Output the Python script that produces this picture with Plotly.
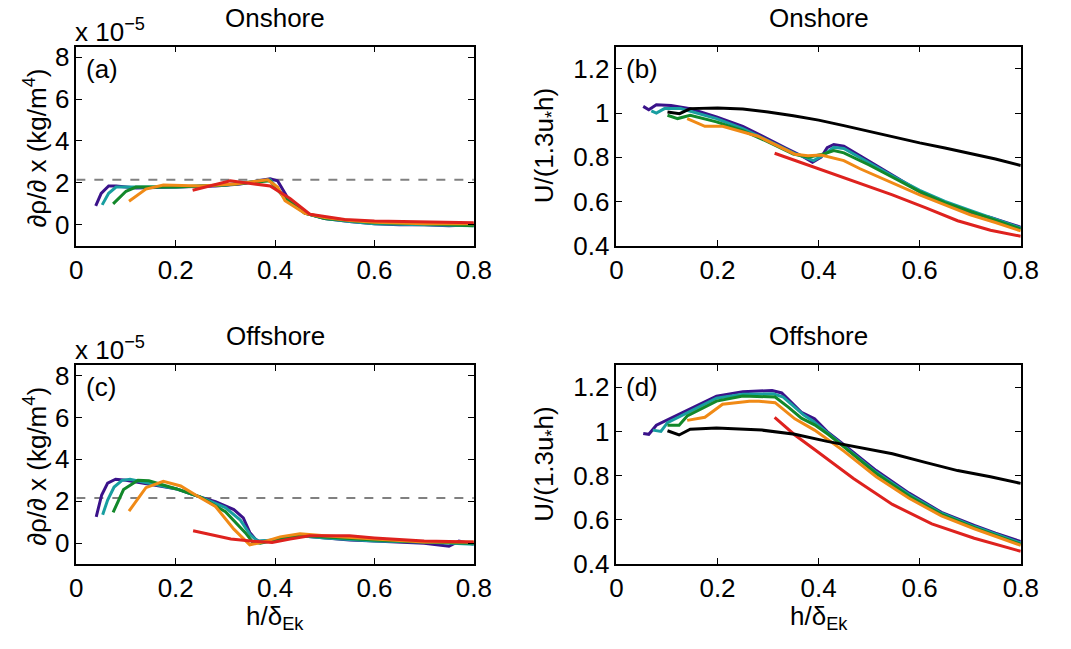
import plotly.graph_objects as go

W, H = 1071, 649

# ---------------- data ----------------
# Panel (a): onshore density gradient (units of 1e-5 kg/m^4)
a_purple_x = [0.039, 0.05, 0.065, 0.08, 0.12, 0.2, 0.28, 0.33, 0.37, 0.39, 0.405, 0.425, 0.46, 0.5, 0.55, 0.6, 0.65, 0.7, 0.75, 0.8]
a_purple_y = [0.9, 1.5, 1.85, 1.85, 1.75, 1.8, 1.85, 1.95, 2.1, 2.2, 2.1, 1.3, 0.55, 0.3, 0.15, 0.05, 0.0, 0.0, -0.05, 0.0]
a_teal_x = [0.052, 0.065, 0.08, 0.1, 0.2, 0.3, 0.37, 0.39, 0.42, 0.46, 0.5, 0.55, 0.6, 0.7, 0.75, 0.8]
a_teal_y = [0.95, 1.5, 1.8, 1.8, 1.8, 1.9, 2.1, 2.15, 1.3, 0.55, 0.3, 0.15, 0.05, 0.0, -0.05, -0.05]
a_green_x = [0.074, 0.09, 0.1, 0.12, 0.2, 0.3, 0.36, 0.39, 0.42, 0.46, 0.5, 0.55, 0.6, 0.7, 0.8]
a_green_y = [1.0, 1.35, 1.6, 1.8, 1.8, 1.9, 2.05, 2.1, 1.25, 0.55, 0.3, 0.2, 0.1, 0.05, -0.05]
a_orange_x = [0.106, 0.14, 0.175, 0.25, 0.32, 0.385, 0.405, 0.42, 0.46, 0.5, 0.55, 0.6, 0.7, 0.8]
a_orange_y = [1.12, 1.7, 1.9, 1.85, 1.95, 2.15, 1.8, 1.15, 0.55, 0.35, 0.2, 0.12, 0.05, 0.05]
a_red_x = [0.234, 0.31, 0.39, 0.43, 0.47, 0.54, 0.6, 0.7, 0.8]
a_red_y = [1.65, 2.1, 1.85, 1.25, 0.5, 0.25, 0.18, 0.15, 0.1]

# Panel (c): offshore density gradient (units of 1e-5 kg/m^4)
c_purple_x = [0.04, 0.051, 0.063, 0.079, 0.1, 0.15, 0.2, 0.25, 0.28, 0.317, 0.336, 0.349, 0.36, 0.368, 0.4, 0.45, 0.5, 0.55, 0.6, 0.65, 0.7, 0.75, 0.77, 0.8]
c_purple_y = [1.26, 2.3, 2.87, 3.05, 3.0, 2.8, 2.6, 2.2, 1.98, 1.6, 1.21, 0.51, 0.2, 0.08, 0.15, 0.35, 0.25, 0.15, 0.1, 0.05, 0.0, -0.15, 0.1, -0.05]
c_teal_x = [0.053, 0.063, 0.076, 0.092, 0.108, 0.13, 0.2, 0.25, 0.3, 0.33, 0.35, 0.365, 0.4, 0.45, 0.5, 0.6, 0.7, 0.8]
c_teal_y = [1.36, 2.06, 2.68, 3.0, 3.05, 2.95, 2.6, 2.2, 1.7, 1.1, 0.4, 0.1, 0.15, 0.35, 0.25, 0.1, 0.05, -0.05]
c_green_x = [0.074, 0.095, 0.124, 0.146, 0.2, 0.25, 0.3, 0.34, 0.355, 0.37, 0.4, 0.45, 0.5, 0.6, 0.7, 0.8]
c_green_y = [1.47, 2.56, 3.0, 2.98, 2.6, 2.2, 1.5, 0.5, 0.05, 0.0, 0.15, 0.38, 0.3, 0.15, 0.05, 0.0]
c_orange_x = [0.106, 0.14, 0.175, 0.21, 0.24, 0.28, 0.317, 0.349, 0.375, 0.41, 0.45, 0.5, 0.6, 0.7, 0.8]
c_orange_y = [1.53, 2.65, 2.95, 2.73, 2.3, 1.75, 0.67, -0.08, 0.05, 0.3, 0.45, 0.35, 0.2, 0.05, 0.05]
c_red_x = [0.235, 0.273, 0.311, 0.356, 0.394, 0.43, 0.47, 0.55, 0.6, 0.7, 0.8]
c_red_y = [0.59, 0.39, 0.2, 0.09, 0.03, 0.2, 0.35, 0.35, 0.25, 0.1, 0.05]

# Reference level (dashed), units of 1e-5
ref_level = 2.15
ref_x = [0.0, 0.8]

# Panel (b): onshore U/(1.3 u* h)
b_purple_x = [0.053, 0.064, 0.079, 0.108, 0.146, 0.198, 0.25, 0.288, 0.334, 0.366, 0.388, 0.405, 0.417, 0.43, 0.45, 0.482, 0.514, 0.546, 0.579, 0.611, 0.643, 0.675, 0.708, 0.74, 0.772, 0.8]
b_purple_y = [1.03, 1.015, 1.037, 1.034, 1.02, 0.983, 0.94, 0.895, 0.843, 0.807, 0.777, 0.80, 0.843, 0.858, 0.85, 0.807, 0.763, 0.72, 0.675, 0.63, 0.60, 0.572, 0.545, 0.528, 0.506, 0.484]
b_teal_x = [0.069, 0.079, 0.095, 0.127, 0.198, 0.25, 0.3, 0.35, 0.39, 0.41, 0.43, 0.45, 0.5, 0.55, 0.6, 0.65, 0.7, 0.75, 0.8]
b_teal_y = [1.01, 1.0, 1.02, 1.02, 0.975, 0.93, 0.875, 0.82, 0.785, 0.81, 0.845, 0.84, 0.775, 0.71, 0.65, 0.6, 0.56, 0.52, 0.48]
b_green_x = [0.101, 0.121, 0.146, 0.198, 0.25, 0.3, 0.35, 0.38, 0.41, 0.43, 0.45, 0.5, 0.55, 0.6, 0.65, 0.7, 0.75, 0.8]
b_green_y = [0.99, 0.975, 0.99, 0.96, 0.92, 0.87, 0.815, 0.80, 0.815, 0.83, 0.82, 0.765, 0.705, 0.645, 0.595, 0.555, 0.515, 0.475]
b_orange_x = [0.14, 0.175, 0.21, 0.28, 0.353, 0.379, 0.405, 0.45, 0.482, 0.55, 0.6, 0.65, 0.7, 0.75, 0.8]
b_orange_y = [0.975, 0.94, 0.94, 0.895, 0.814, 0.807, 0.81, 0.785, 0.748, 0.68, 0.63, 0.585, 0.54, 0.505, 0.467]
b_red_x = [0.313, 0.417, 0.482, 0.546, 0.611, 0.675, 0.74, 0.8]
b_red_y = [0.818, 0.733, 0.682, 0.63, 0.572, 0.513, 0.47, 0.443]
b_black_x = [0.101, 0.125, 0.146, 0.2, 0.25, 0.3, 0.35, 0.4, 0.45, 0.5, 0.55, 0.6, 0.65, 0.7, 0.75, 0.8]
b_black_y = [1.005, 0.997, 1.02, 1.023, 1.018, 1.005, 0.988, 0.968, 0.943, 0.917, 0.89, 0.865, 0.842, 0.818, 0.792, 0.763]

# Panel (d): offshore U/(1.3 u* h)
d_purple_x = [0.053, 0.064, 0.079, 0.108, 0.146, 0.198, 0.25, 0.308, 0.327, 0.346, 0.366, 0.392, 0.417, 0.45, 0.514, 0.579, 0.643, 0.708, 0.75, 0.8]
d_purple_y = [0.991, 0.987, 1.028, 1.06, 1.10, 1.16, 1.18, 1.185, 1.174, 1.13, 1.086, 1.057, 0.999, 0.94, 0.823, 0.721, 0.634, 0.575, 0.54, 0.502]
d_teal_x = [0.072, 0.088, 0.101, 0.146, 0.198, 0.25, 0.31, 0.33, 0.35, 0.37, 0.39, 0.42, 0.45, 0.514, 0.579, 0.643, 0.708, 0.8]
d_teal_y = [1.006, 1.0, 1.04, 1.09, 1.15, 1.168, 1.17, 1.155, 1.115, 1.075, 1.045, 0.99, 0.935, 0.815, 0.715, 0.63, 0.57, 0.495]
d_green_x = [0.101, 0.124, 0.14, 0.198, 0.25, 0.314, 0.34, 0.366, 0.392, 0.42, 0.45, 0.514, 0.579, 0.643, 0.708, 0.8]
d_green_y = [1.028, 1.028, 1.07, 1.137, 1.16, 1.156, 1.11, 1.06, 1.03, 0.985, 0.93, 0.81, 0.708, 0.625, 0.565, 0.49]
d_orange_x = [0.14, 0.175, 0.21, 0.263, 0.282, 0.314, 0.353, 0.392, 0.45, 0.514, 0.579, 0.643, 0.708, 0.8]
d_orange_y = [1.05, 1.064, 1.123, 1.137, 1.137, 1.13, 1.057, 1.006, 0.911, 0.795, 0.698, 0.618, 0.56, 0.485]
d_red_x = [0.313, 0.353, 0.392, 0.469, 0.546, 0.624, 0.708, 0.8]
d_red_y = [1.064, 0.984, 0.918, 0.787, 0.67, 0.582, 0.517, 0.458]
d_black_x = [0.101, 0.124, 0.146, 0.198, 0.288, 0.353, 0.417, 0.482, 0.546, 0.611, 0.675, 0.74, 0.8]
d_black_y = [1.003, 0.984, 1.01, 1.016, 1.006, 0.987, 0.955, 0.926, 0.899, 0.86, 0.823, 0.795, 0.765]

x_ticks = [0, 0.2, 0.4, 0.6, 0.8]
x_ticktext = ["0", "0.2", "0.4", "0.6", "0.8"]
rho_ticks = [0, 2, 4, 6, 8]
rho_ticktext = ["0", "2", "4", "6", "8"]
u_ticks = [0.4, 0.6, 0.8, 1.0, 1.2]
u_ticktext = ["0.4", "0.6", "0.8", "1", "1.2"]

titles = ["Onshore", "Onshore", "Offshore", "Offshore"]
panel_labels = ["(a)", "(b)", "(c)", "(d)"]

# ---------------- style ----------------
PURPLE = "rgb(58,18,138)"
TEAL = "rgb(24,158,160)"
GREEN = "rgb(18,136,42)"
ORANGE = "rgb(240,138,22)"
RED = "rgb(222,34,30)"
BLACK = "black"
FONT = "Liberation Sans, Arial, sans-serif"
FS = 26
LW = 3

fig = go.Figure()

def px_x(p):
    return p / W

def px_y(p):
    return 1 - p / H

# domains (pixel boxes)
boxes = {
    1: (71, 478, 44, 249),
    2: (624, 1038, 44, 249),
    3: (71, 478, 372, 577),
    4: (624, 1038, 372, 577),
}

def add_line(x, y, color, ax, dash=None, width=LW):
    fig.add_trace(go.Scatter(
        x=x, y=y, mode="lines",
        line=dict(color=color, width=width, dash=dash),
        xaxis="x" if ax == 1 else f"x{ax}",
        yaxis="y" if ax == 1 else f"y{ax}",
        showlegend=False, hoverinfo="skip"))

# panel a
add_line(ref_x, [ref_level, ref_level], "rgb(128,128,128)", 1, dash="dash", width=2)
add_line(a_purple_x, a_purple_y, PURPLE, 1)
add_line(a_teal_x, a_teal_y, TEAL, 1)
add_line(a_green_x, a_green_y, GREEN, 1)
add_line(a_orange_x, a_orange_y, ORANGE, 1)
add_line(a_red_x, a_red_y, RED, 1)
# panel b
add_line(b_purple_x, b_purple_y, PURPLE, 2)
add_line(b_teal_x, b_teal_y, TEAL, 2)
add_line(b_green_x, b_green_y, GREEN, 2)
add_line(b_orange_x, b_orange_y, ORANGE, 2)
add_line(b_red_x, b_red_y, RED, 2)
add_line(b_black_x, b_black_y, BLACK, 2)
# panel c
add_line(ref_x, [ref_level, ref_level], "rgb(128,128,128)", 3, dash="dash", width=2)
add_line(c_purple_x, c_purple_y, PURPLE, 3)
add_line(c_teal_x, c_teal_y, TEAL, 3)
add_line(c_green_x, c_green_y, GREEN, 3)
add_line(c_orange_x, c_orange_y, ORANGE, 3)
add_line(c_red_x, c_red_y, RED, 3)
# panel d
add_line(d_purple_x, d_purple_y, PURPLE, 4)
add_line(d_teal_x, d_teal_y, TEAL, 4)
add_line(d_green_x, d_green_y, GREEN, 4)
add_line(d_orange_x, d_orange_y, ORANGE, 4)
add_line(d_red_x, d_red_y, RED, 4)
add_line(d_black_x, d_black_y, BLACK, 4)

layout = dict(
    width=W, height=H,
    margin=dict(l=0, r=0, t=0, b=0),
    paper_bgcolor="white", plot_bgcolor="white",
    font=dict(family=FONT, size=FS, color="black"),
    showlegend=False,
)

annotations = []
for i in range(1, 5):
    l, r, t, b = boxes[i]
    xk = "xaxis" if i == 1 else f"xaxis{i}"
    yk = "yaxis" if i == 1 else f"yaxis{i}"
    xa = "x" if i == 1 else f"x{i}"
    ya = "y" if i == 1 else f"y{i}"
    common = dict(showline=True, linecolor="black", linewidth=1.5, mirror="allticks",
                  ticks="inside", ticklen=6, tickwidth=1, tickcolor="black",
                  showgrid=False, zeroline=False,
                  tickfont=dict(family=FONT, size=FS, color="black"))
    layout[xk] = dict(domain=[px_x(l), px_x(r)], anchor=ya, range=[0, 0.8],
                      tickvals=x_ticks, ticktext=x_ticktext, **common)
    if i in (1, 3):
        layout[yk] = dict(domain=[px_y(b), px_y(t)], anchor=xa, range=[-1, 8.5],
                          tickvals=rho_ticks, ticktext=rho_ticktext, **common)
    else:
        layout[yk] = dict(domain=[px_y(b), px_y(t)], anchor=xa, range=[0.4, 1.3],
                          tickvals=u_ticks, ticktext=u_ticktext, **common)
    # title
    annotations.append(dict(text=titles[i - 1], x=px_x((l + r) / 2), y=px_y(t - 30),
                            xref="paper", yref="paper", xanchor="center", yanchor="middle",
                            showarrow=False, font=dict(family=FONT, size=FS)))
    # panel label
    annotations.append(dict(text=panel_labels[i - 1], x=px_x(l + 8), y=px_y(t + 23),
                            xref="paper", yref="paper", xanchor="left", yanchor="middle",
                            showarrow=False, font=dict(family=FONT, size=FS)))
    # y axis titles
    if i in (1, 3):
        annotations.append(dict(text="∂ρ/∂ x (kg/m<sup>4</sup>)", x=px_x(29), y=px_y((t + b) / 2 + 2),
                                xref="paper", yref="paper", xanchor="center", yanchor="middle",
                                textangle=-90, showarrow=False, font=dict(family=FONT, size=FS)))
        annotations.append(dict(text="x 10<sup>−5</sup>", x=px_x(l - 3), y=px_y(t - 17),
                                xref="paper", yref="paper", xanchor="left", yanchor="middle",
                                showarrow=False, font=dict(family=FONT, size=FS)))
    else:
        annotations.append(dict(text="U/(1.3u<sub>*</sub>h)", x=px_x(551), y=px_y((t + b) / 2),
                                xref="paper", yref="paper", xanchor="center", yanchor="middle",
                                textangle=-90, showarrow=False, font=dict(family=FONT, size=FS)))
    if i in (3, 4):
        annotations.append(dict(text="h/δ<sub>Ek</sub>", x=px_x((l + r) / 2), y=px_y(632),
                                xref="paper", yref="paper", xanchor="center", yanchor="middle",
                                showarrow=False, font=dict(family=FONT, size=FS)))

layout["annotations"] = annotations
fig.update_layout(**layout)
fig.write_html("out.html")
